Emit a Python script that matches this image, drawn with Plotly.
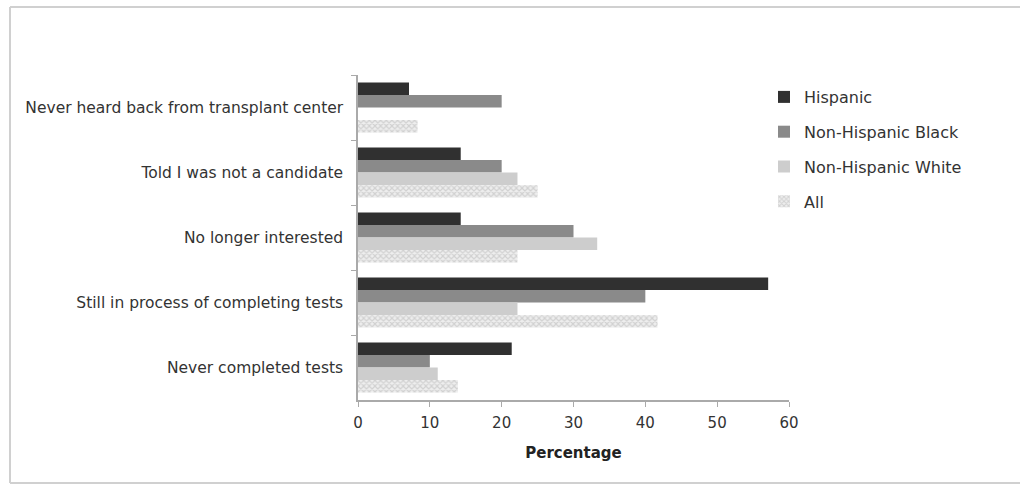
import plotly.graph_objects as go

categories = [
    "Never heard back from transplant center",
    "Told I was not a candidate",
    "No longer interested",
    "Still in process of completing tests",
    "Never completed tests",
]
hispanic = [7.1, 14.3, 14.3, 57.1, 21.4]
nh_black = [20.0, 20.0, 30.0, 40.0, 10.0]
nh_white = [0.0, 22.2, 33.3, 22.2, 11.1]
all_pts = [8.3, 25.0, 22.2, 41.7, 13.9]
series_names = ["Hispanic", "Non-Hispanic Black", "Non-Hispanic White", "All"]
x_ticks = [0, 10, 20, 30, 40, 50, 60]

FONT = "DejaVu Sans"
W, H = 1020, 485
L, R, T, B = 358, 231, 75, 85
pw, ph = W - L - R, H - T - B

fig = go.Figure()
colors = ["#303030", "#8a8a8a", "#cdcdcd", "#d6d6d6"]
data = [hispanic, nh_black, nh_white, all_pts]
for i, (name, vals, col) in enumerate(zip(series_names, data, colors)):
    marker = dict(color=col, line=dict(width=0))
    if name == "All":
        marker["pattern"] = dict(shape="x", fgcolor="#b4b4b4", bgcolor="#eeeeee",
                                 size=4, solidity=0.5, fillmode="overlay")
    fig.add_trace(go.Bar(
        y=categories, x=vals, name=name, orientation="h",
        marker=marker, legendgroup=name,
    ))

def px_to_paper_x(px):
    return (px - L) / pw

def px_to_paper_y(py):
    return 1 - (py - T) / ph

# outer frame (top, left, bottom edges; right edge lies outside the picture)
frame = dict(color="#d0d0d0", width=2)
xl, xr = px_to_paper_x(10), px_to_paper_x(1020)
yt, yb = px_to_paper_y(7), px_to_paper_y(483)
for x0, y0, x1, y1 in [(xl, yt, xr, yt), (xl, yt, xl, yb), (xl, yb, xr, yb)]:
    fig.add_shape(type="line", xref="paper", yref="paper",
                  x0=x0, y0=y0, x1=x1, y1=y1, line=frame, layer="below")

fig.update_layout(
    width=W, height=H,
    margin=dict(l=L, r=R, t=T, b=B),
    paper_bgcolor="white", plot_bgcolor="white",
    barmode="group", bargap=0.23, bargroupgap=0,
    font=dict(family=FONT, size=15, color="#333333"),
    showlegend=True,
    legend=dict(x=px_to_paper_x(764), y=px_to_paper_y(80), xanchor="left", yanchor="top",
                traceorder="grouped", tracegroupgap=11,
                font=dict(family=FONT, size=16, color="#333333"),
                itemwidth=30, bgcolor="rgba(0,0,0,0)"),
    xaxis=dict(range=[0, 60], tickvals=x_ticks, ticks="outside", ticklen=5,
               tickcolor="#aaaaaa", showline=True, linecolor="#aaaaaa", linewidth=1.5,
               showgrid=False, zeroline=False, ticklabelstandoff=3,
               tickfont=dict(family=FONT, size=15, color="#333333"),
               title=dict(text="<b>Percentage</b>", standoff=17,
                          font=dict(family=FONT, size=15, color="#222222"))),
    yaxis=dict(autorange="reversed", ticks="outside", ticklen=5, tickson="boundaries",
               tickcolor="#aaaaaa", showline=True, linecolor="#aaaaaa", linewidth=1.5,
               showgrid=False, zeroline=False, ticklabelstandoff=10,
               tickfont=dict(family=FONT, size=15.5, color="#333333")),
)

fig.write_html("out.html", config={"displayModeBar": False},
               post_script="document.body.style.margin='0';document.body.style.padding='0';document.body.style.overflow='hidden';")
